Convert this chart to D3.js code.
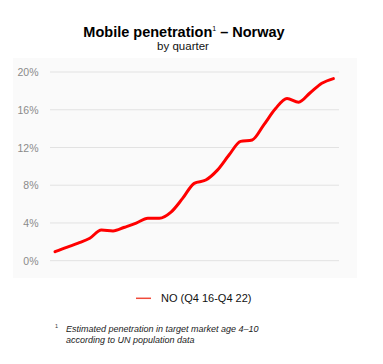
<!DOCTYPE html>
<html>
<head>
<meta charset="utf-8">
<script src="https://cdn.jsdelivr.net/npm/d3@7/dist/d3.min.js"></script>
<style>
  html, body { margin: 0; padding: 0; background: #fff; }
  svg { display: block; }
  text { font-family: "Liberation Sans", Arial, sans-serif; }
</style>
</head>
<body>
<script>
// Quarters Q4 2016 .. Q4 2022
const quarters = ["Q4 16","Q1 17","Q2 17","Q3 17","Q4 17","Q1 18","Q2 18","Q3 18","Q4 18",
  "Q1 19","Q2 19","Q3 19","Q4 19","Q1 20","Q2 20","Q3 20","Q4 20",
  "Q1 21","Q2 21","Q3 21","Q4 21","Q1 22","Q2 22","Q3 22","Q4 22"];
// Penetration (%)
const penetration = [0.95, 1.42, 1.86, 2.38, 3.25, 3.15, 3.55, 3.98, 4.5,
  4.5, 5.15, 6.6, 8.2, 8.55, 9.6, 11.2, 12.65,
  12.8, 14.4, 16.1, 17.2, 16.8, 17.8, 18.8, 19.3];
const yTicks = [0, 4, 8, 12, 16, 20];
const seriesName = "NO (Q4 16-Q4 22)";

const W = 383, H = 364;
const svg = d3.select("body").append("svg").attr("width", W).attr("height", H);

// faint panel
svg.append("rect").attr("x", 13).attr("y", 58).attr("width", 344).attr("height", 220)
  .attr("fill", "#fafafa");

// title
const title = svg.append("text").attr("x", 184).attr("y", 37).attr("text-anchor", "middle")
  .attr("font-size", 14.5).attr("font-weight", "bold").attr("fill", "#000");
title.append("tspan").text("Mobile penetration");
title.append("tspan").text("1").attr("font-size", 7).attr("dy", -6).attr("font-weight", "normal");
title.append("tspan").text(" \u2013 Norway").attr("dy", 6);

svg.append("text").attr("x", 183).attr("y", 49.5).attr("text-anchor", "middle")
  .attr("font-size", 11.5).attr("fill", "#111").text("by quarter");

const x = d3.scalePoint().domain(quarters).range([55, 333.4]);
const y = d3.scaleLinear().domain([0, 20]).range([260.7, 72]);

// grid
svg.append("g").selectAll("line").data(yTicks).join("line")
  .attr("x1", 50).attr("x2", 339)
  .attr("y1", d => y(d)).attr("y2", d => y(d))
  .attr("stroke", "#e2e2e2").attr("stroke-width", 1);

const yAxis = d3.axisLeft(y).tickValues(yTicks).tickFormat(d => d + "%").tickSize(0).tickPadding(0);
const ga = svg.append("g").attr("transform", "translate(38.5,0)").call(yAxis);
ga.select(".domain").remove();
ga.selectAll("text").attr("font-size", 10.5).attr("fill", "#8a8a8a")
  .attr("font-family", "\"Liberation Sans\", Arial, sans-serif").attr("dy", "0.35em");

// line
const line = d3.line().x((d, i) => x(quarters[i])).y(d => y(d)).curve(d3.curveMonotoneX);
svg.append("path").datum(penetration).attr("d", line)
  .attr("fill", "none").attr("stroke", "#ff0000").attr("stroke-width", 3)
  .attr("stroke-linejoin", "round").attr("stroke-linecap", "round");

// legend
svg.append("line").attr("x1", 136).attr("x2", 151).attr("y1", 298.3).attr("y2", 298.3)
  .attr("stroke", "#f04a3a").attr("stroke-width", 1.5);
svg.append("text").attr("x", 161).attr("y", 302).attr("font-size", 11).attr("fill", "#111")
  .text(seriesName);

// footnote
svg.append("text").attr("x", 55).attr("y", 328).attr("font-size", 5.5).attr("fill", "#333").text("1");
const fn = svg.append("text").attr("font-size", 9).attr("font-style", "italic").attr("fill", "#222");
fn.append("tspan").attr("x", 66).attr("y", 331.5).text("Estimated penetration in target market age 4\u201310");
fn.append("tspan").attr("x", 66).attr("y", 342.5).text("according to UN population data");
</script>
</body>
</html>
